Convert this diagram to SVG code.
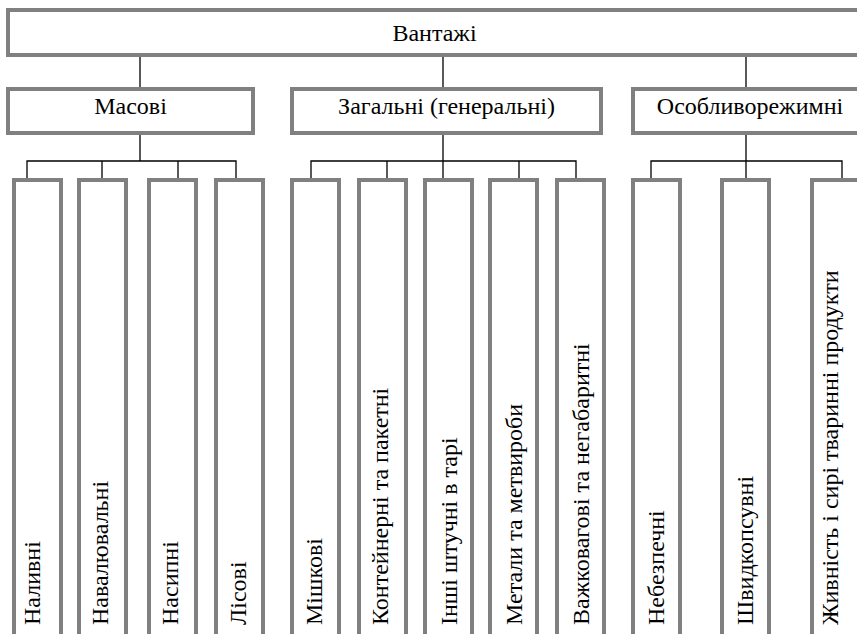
<svg xmlns="http://www.w3.org/2000/svg" width="857" height="634" viewBox="0 0 857 634">
<style>
.box{fill:#fff;stroke:#808080;stroke-width:4}
.lbl{font-family:'Liberation Serif','Times New Roman',Tinos,serif;font-size:24px;fill:#000}
.mid{text-anchor:middle}
.conn{stroke:#000;stroke-width:1.3;fill:none}
</style>
<rect width="857" height="634" fill="#fff"/>
<g id="n-vantazhi"><rect class="box" x="8" y="10" width="853" height="45"/><text class="lbl mid" x="434.5" y="41">Вантажі</text></g>
<g id="n-masovi"><rect class="box" x="8" y="89" width="245" height="44"/><text class="lbl mid" x="130.5" y="114">Масові</text></g>
<g id="n-zagalni"><rect class="box" x="292" y="89" width="309" height="44"/><text class="lbl mid" x="446.5" y="114">Загальні (генеральні)</text></g>
<g id="n-osoblyvo"><rect class="box" x="633" y="89" width="234" height="44"/><text class="lbl mid" x="750" y="114">Особливорежимні</text></g>
<g id="n-nalyvni"><rect class="box" x="14" y="180" width="47" height="470"/><text class="lbl" transform="translate(40,625) rotate(-90)">Наливні</text></g>
<g id="n-navaliuvalni"><rect class="box" x="79" y="180" width="47" height="470"/><text class="lbl" transform="translate(108,625) rotate(-90)">Навалювальні</text></g>
<g id="n-nasypni"><rect class="box" x="149" y="180" width="47" height="470"/><text class="lbl" transform="translate(178,625) rotate(-90)">Насипні</text></g>
<g id="n-lisovi"><rect class="box" x="216" y="180" width="47" height="470"/><text class="lbl" transform="translate(246,625) rotate(-90)">Лісові</text></g>
<g id="n-mishkovi"><rect class="box" x="292" y="180" width="47" height="470"/><text class="lbl" transform="translate(322,625) rotate(-90)">Мішкові</text></g>
<g id="n-kontejnerni"><rect class="box" x="359" y="180" width="47" height="470"/><text class="lbl" transform="translate(388,625) rotate(-90)">Контейнерні та пакетні</text></g>
<g id="n-inshi"><rect class="box" x="425" y="180" width="47" height="470"/><text class="lbl" transform="translate(457,625) rotate(-90)">Інші штучні в тарі</text></g>
<g id="n-metaly"><rect class="box" x="490" y="180" width="47" height="470"/><text class="lbl" transform="translate(522,625) rotate(-90)">Метали та метвироби</text></g>
<g id="n-vazhkovagovi"><rect class="box" x="557" y="180" width="47" height="470"/><text class="lbl" transform="translate(589,625) rotate(-90)">Важковагові та негабаритні</text></g>
<g id="n-nebezpechni"><rect class="box" x="633" y="180" width="47" height="470"/><text class="lbl" transform="translate(664,625) rotate(-90)">Небезпечні</text></g>
<g id="n-shvydkopsuvni"><rect class="box" x="722" y="180" width="47" height="470"/><text class="lbl" transform="translate(753,625) rotate(-90)">Швидкопсувні</text></g>
<g id="n-zhyvnist"><rect class="box" x="812" y="180" width="47" height="470"/><text class="lbl" transform="translate(838,625) rotate(-90)">Живність і сирі тваринні продукти</text></g>
<g id="connectors" class="conn">
<path d="M140 57V87M443 57V87M746 57V87"/>
<path d="M140 135V161M27 178V161H236V178M102 161V178M178 161V178"/>
<path d="M443 135V178M311 178V161H576V178M387 161V178M519 161V178"/>
<path d="M746 135V178M651 178V161H842V178"/>
</g>
</svg>
